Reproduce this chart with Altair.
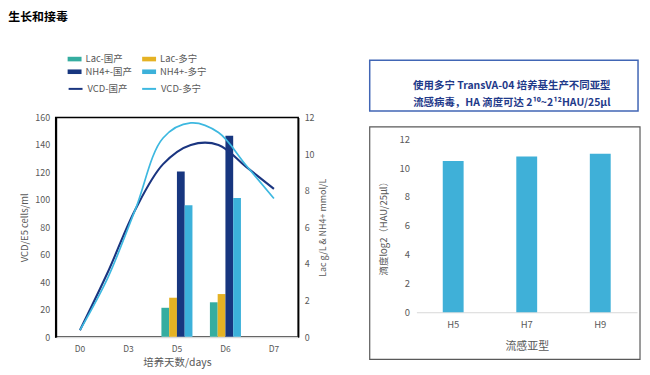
import altair as alt
import pandas as pd

# ---------------- data ----------------
page_title = "生长和接毒"

days = ["D0", "D3", "D5", "D6", "D7"]
bar_series = ["Lac-国产", "Lac-多宁", "NH4+-国产", "NH4+-多宁"]
bar_days = ["D5", "D6"]
lac_guochan = [1.6, 1.9]
lac_duoning = [2.15, 2.35]
nh4_guochan = [9.05, 11.0]
nh4_duoning = [7.2, 7.6]
bar_colors = ["#35ADA0", "#E5B224", "#17367F", "#3CB1DA"]

line_series = ["VCD-国产", "VCD-多宁"]
line_days = [0, 1, 2, 3, 4, 5, 6, 7]
vcd_guochan = [5, 47, 93, 126, 140, 140, 124, 108]
vcd_duoning = [5, 43, 93, 145, 156, 149, 125, 101]
line_colors = ["#1A3580", "#3DB8E0"]
line_widths = [2.1, 1.7]

subtypes = ["H5", "H7", "H9"]
titers = [10.5, 10.8, 11.0]

box_lines = ["使用多宁 TransVA-04 培养基生产不同亚型",
             "流感病毒，HA 滴度可达 2¹⁰~2¹²HAU/25μl"]

# ---------------- tables ----------------
bar_rows = []
for s, vals in zip(bar_series, [lac_guochan, lac_duoning, nh4_guochan, nh4_duoning]):
    for d, v in zip(bar_days, vals):
        bar_rows.append({"day": d, "series": s, "value": v})
bar_df = pd.DataFrame(bar_rows)

line_rows = []
for s, vals in zip(line_series, [vcd_guochan, vcd_duoning]):
    for d, v in zip(line_days, vals):
        line_rows.append({"day": d, "series": s, "vcd": v})
line_df = pd.DataFrame(line_rows)

ha_df = pd.DataFrame({"subtype": subtypes, "titer": titers})
box_df = pd.DataFrame({"text": ["\n".join(box_lines)]})

FONT = "Noto Sans CJK SC"
GREY = "#595959"

# ---------------- left chart ----------------
W1, H1 = 244, 221
bars = alt.Chart(bar_df).mark_bar().encode(
    x=alt.X("day:N", scale=alt.Scale(domain=days, paddingInner=0.36, paddingOuter=0.18),
            axis=alt.Axis(title="培养天数/days", labelAngle=0, ticks=False, domainColor="#d9d9d9",
                          domainWidth=1.5, zindex=1, labelPadding=8, titlePadding=4,
                          labelFontSize=8.5, titleFontSize=10.5)),
    xOffset=alt.XOffset("series:N", scale=alt.Scale(domain=bar_series, paddingInner=0, paddingOuter=0)),
    y=alt.Y("value:Q", scale=alt.Scale(domain=[0, 12]),
            axis=alt.Axis(orient="right", values=list(range(0, 13, 2)), title="Lac g/L & NH4+ mmol/L",
                          titleAngle=270, titleBaseline="top", domainColor="black", domainWidth=1.5,
                          ticks=False, labelPadding=6, titlePadding=5, labelFontSize=9,
                          titleFontSize=9, zindex=1)),
    fill=alt.Fill("series:N", scale=alt.Scale(domain=bar_series, range=bar_colors),
                  legend=alt.Legend(title=None, orient="none", legendX=12, legendY=-66, columns=2,
                                    direction="horizontal",
                                    symbolType="M-1,-0.33H1V0.33H-1Z", symbolSize=196,
                                    symbolStrokeWidth=0, labelFontSize=9.5, labelColor=GREY,
                                    labelFont=FONT, columnPadding=10, rowPadding=1,
                                    labelOffset=4, padding=0)),
)

lines = alt.Chart(line_df).mark_line(interpolate="catmull-rom").encode(
    x=alt.X("day:Q", scale=alt.Scale(domain=[-0.875, 7.875], nice=False, zero=False), axis=None),
    y=alt.Y("vcd:Q", scale=alt.Scale(domain=[0, 160]),
            axis=alt.Axis(orient="left", values=list(range(0, 161, 20)), title="VCD/E5 cells/ml",
                          domainColor="black", domainWidth=2, ticks=False, labelPadding=6,
                          titlePadding=5, labelFontSize=9, titleFontSize=9.5, zindex=1)),
    stroke=alt.Stroke("series:N", scale=alt.Scale(domain=line_series, range=line_colors),
                      legend=alt.Legend(title=None, orient="none", legendX=12, legendY=-37, columns=2,
                                        direction="horizontal",
                                        symbolType="stroke", symbolSize=196, symbolStrokeWidth=2,
                                        labelFontSize=9.5, labelColor=GREY, labelFont=FONT,
                                        columnPadding=10, labelOffset=4, padding=0)),
    strokeWidth=alt.StrokeWidth("series:N", scale=alt.Scale(domain=line_series, range=line_widths),
                                legend=None),
)

left = alt.layer(bars, lines).resolve_scale(
    x="independent", y="independent", fill="independent", stroke="independent"
).properties(width=W1, height=H1, view=alt.ViewBackground(stroke="black", strokeWidth=1.5))

# ---------------- right chart (text box + bar chart) ----------------
W3, H3 = 222, 196
box_rect = alt.Chart(box_df).mark_rect(fillOpacity=0, stroke="#4166B5", strokeWidth=1.5).encode(
    x=alt.value(-47), x2=alt.value(223), y=alt.value(-57.5), y2=alt.value(-6.5))
box_text = alt.Chart(box_df).mark_text(font=FONT, fontSize=10.5, fontWeight="bold", color="#1F3A8A",
                                       lineBreak="\n", lineHeight=16.7, baseline="middle").encode(
    text="text:N", x=alt.value(96), y=alt.value(-31.2))
frame = alt.Chart(box_df).mark_rect(fillOpacity=0, stroke="#595959", strokeWidth=1.2).encode(
    x=alt.value(-47), x2=alt.value(W3 + 3), y=alt.value(9.5), y2=alt.value(243.5))
ha_bars = alt.Chart(ha_df).mark_bar(size=21, color="#3FB0D8").encode(
    x=alt.X("subtype:N", scale=alt.Scale(domain=subtypes),
            axis=alt.Axis(title="流感亚型", labelAngle=0, ticks=False, domainColor="#d9d9d9",
                          labelPadding=7, titlePadding=12, labelFontSize=9.5, titleFontSize=11)),
    y=alt.Y("titer:Q", scale=alt.Scale(domain=[0, 12], range=[H3, 22]),
            axis=alt.Axis(values=list(range(0, 13, 2)), title="滴度log2（HAU/25μl）", domain=False,
                          ticks=False, labelPadding=7, titlePadding=11, labelFontSize=9.5,
                          titleFontSize=9.5)),
)
right = alt.layer(box_rect, box_text, frame, ha_bars).properties(width=W3, height=H3)

chart = alt.hconcat(left, right, spacing=39).properties(
    title=alt.TitleParams(page_title, anchor="start", dx=-11, fontSize=12, fontWeight="bold",
                          font=FONT, color="#000000", offset=27.5),
    padding={"left": 0, "top": 1, "right": 0, "bottom": 0},
).configure_view(stroke="transparent").configure_axis(
    labelFont=FONT, titleFont=FONT, labelColor=GREY, titleColor=GREY,
    titleFontWeight="normal", grid=False)

chart.save("out.html", embed_options={"renderer": "svg", "actions": False})
